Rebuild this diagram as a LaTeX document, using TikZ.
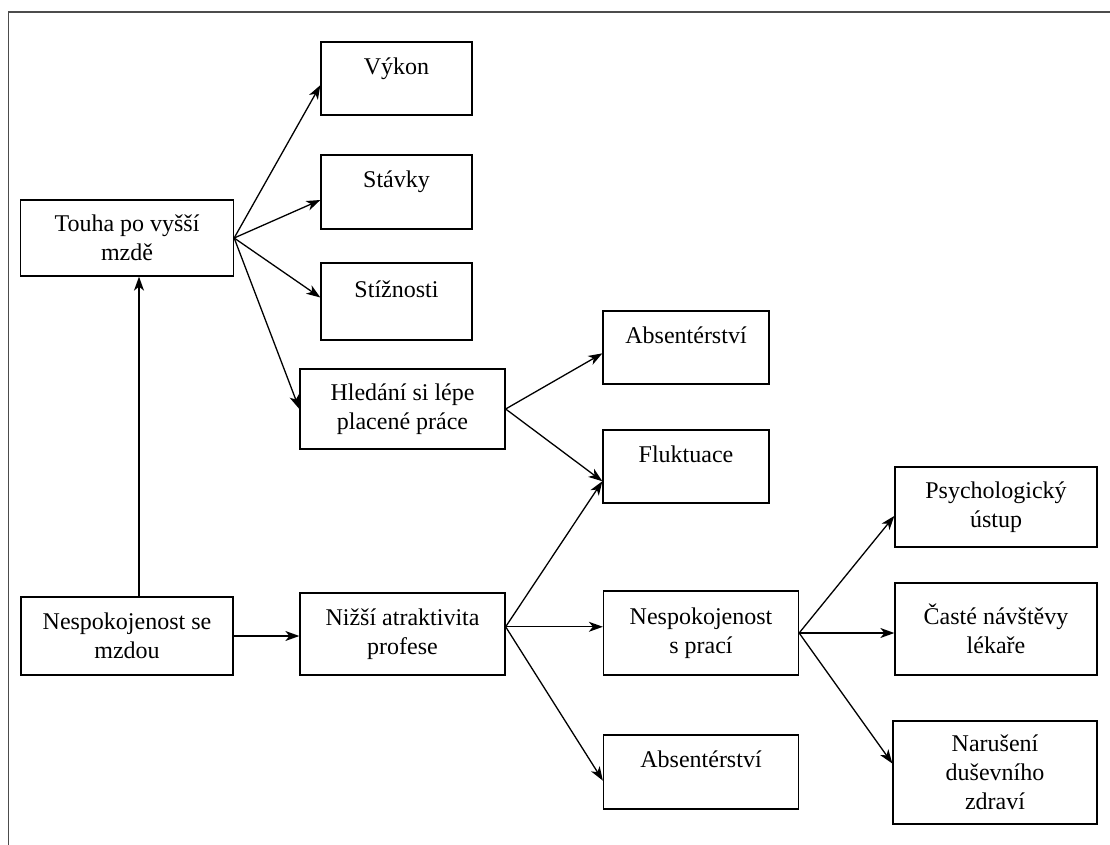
\documentclass[tikz,border=0pt]{standalone}
\usepackage{fontspec}
\setmainfont{Liberation Serif}
\usetikzlibrary{arrows.meta}
\tikzset{
    box/.style={draw,line width=1.3pt,align=center,inner sep=2pt},
    onel/.style={text depth=25pt},
    arr/.style={-{Stealth[length=14pt,width=10pt,inset=4pt]},line width=1.3pt},
    frame/.style={draw=black!70,line width=1.6pt}
}
\begin{document}
\begin{tikzpicture}[x=1pt,y=-1pt,font=\fontsize{24}{29}\selectfont]
\useasboundingbox (0,0) rectangle (1110,845);
\draw[frame](1110,12)--(8.5,12)--(8.5,845);
% left column
\node[box,minimum width=213,minimum height=76](touha) at (127,238) {Touha po vyšší\\mzdě};
\node[box,minimum width=212,minimum height=78](nesmz) at (127,636) {Nespokojenost se\\mzdou};
% second column
\node[box,onel,minimum width=151,minimum height=73](vykon) at (396.5,78.5) {Výkon};
\node[box,onel,minimum width=151,minimum height=74](stavky) at (396.5,192) {Stávky};
\node[box,onel,minimum width=151,minimum height=77](stiz) at (396.5,301.5) {Stížnosti};
\node[box,minimum width=205,minimum height=80](hled) at (402.5,409) {Hledání si lépe\\placené práce};
\node[box,minimum width=205,minimum height=82](nizsi) at (402.5,634) {Nižší atraktivita\\profese};
% third column
\node[box,onel,minimum width=166,minimum height=73](absA) at (686,347.5) {Absentérství};
\node[box,onel,minimum width=166,minimum height=73](fluk) at (686,466.5) {Fluktuace};
\node[box,minimum width=195,minimum height=84](nesprac) at (701,633) {Nespokojenost\\s prací};
\node[box,onel,minimum width=195,minimum height=74](absB) at (701,772) {Absentérství};
% fourth column
\node[box,minimum width=202,minimum height=80](psych) at (996,507) {Psychologický\\ústup};
\node[box,minimum width=202,minimum height=92](caste) at (996,629) {Časté návštěvy\\lékaře};
\node[box,minimum width=204,minimum height=103](narus) at (995,772.5) {Narušení\\duševního\\zdraví};
% arrows
\draw[arr]([xshift=12pt]nesmz.north)--([xshift=12pt]touha.south);
\draw[arr](nesmz.east)--(nesmz.east-|nizsi.west);
\draw[arr](touha.east)--(vykon.185);
\draw[arr](touha.east)--(stavky.186);
\draw[arr](touha.east)--(stiz.177);
\draw[arr](touha.east)--(hled.west);
\draw[arr](hled.east)--(absA.184);
\draw[arr](hled.east)--(fluk.190);
\draw[arr](nizsi.4)--(fluk.190);
\draw[arr](nizsi.4)--(nizsi.4-|nesprac.west);
\draw[arr](nizsi.4)--(absB.185);
\draw[arr](nesprac.east)--(psych.185);
\draw[arr](nesprac.east)--(nesprac.east-|caste.west);
\draw[arr](nesprac.east)--(narus.175);
\end{tikzpicture}
\end{document}
